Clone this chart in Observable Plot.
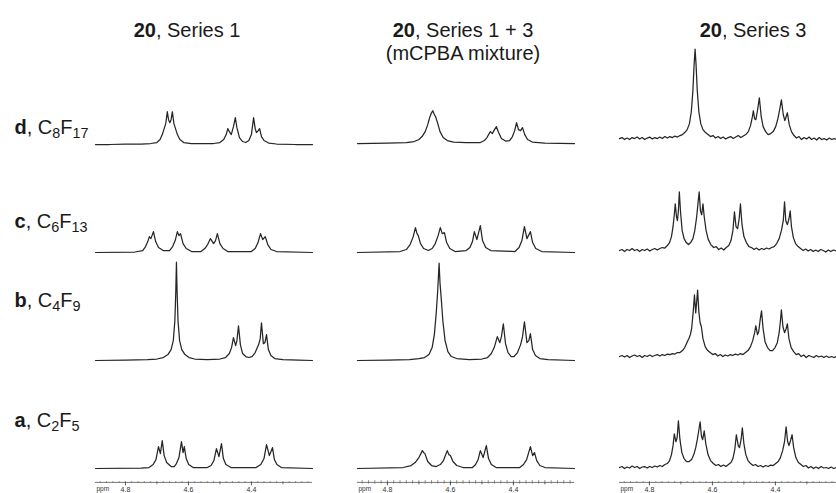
<!DOCTYPE html>
<html><head><meta charset="utf-8">
<script src="https://cdn.jsdelivr.net/npm/d3@7"></script>
<script src="https://cdn.jsdelivr.net/npm/@observablehq/plot@0.6"></script>
<style>html,body{margin:0;padding:0;background:#fff;overflow:hidden}</style>
</head><body><div id="chart"></div>
<script>
// ---------- data ----------
const compound = "20";
const colKeys = ["Series 1", "Series 1 + 3", "Series 3"];
const colNotes = ["", "(mCPBA mixture)", ""];
const rows = ["d", "c", "b", "a"];
const formulas = ["C8F17", "C6F13", "C4F9", "C2F5"];

const majorTicks = [4.8, 4.6, 4.4];
const majorTickLabels = ["4.8", "4.6", "4.4"];
const axisUnit = "ppm";
const midTicks = [4.7, 4.5, 4.3];
const fineTicks = [4.88,4.86,4.84,4.82,4.80,4.78,4.76,4.74,4.72,4.70,4.68,4.66,4.64,4.62,4.60,4.58,4.56,4.54,4.52,4.50,4.48,4.46,4.44,4.42,4.40,4.38,4.36,4.34,4.32,4.30,4.28,4.26,4.24,4.22];

// spectra: [ppm, intensity]
const S1_d = [[4.895,0],[4.85,0],[4.80,0.5],[4.75,0.5],[4.72,1],[4.700,2],[4.690,5],[4.683,10],[4.677,16],[4.672,21],[4.667,33],[4.663,25],[4.659,22],[4.655,25],[4.651,33],[4.646,21],[4.641,16],[4.635,10],[4.627,5],[4.615,2],[4.59,1],[4.52,1],[4.500,2],[4.488,5],[4.480,10],[4.475,16],[4.470,13],[4.464,10],[4.457,18],[4.451,27],[4.446,17],[4.438,7],[4.428,3],[4.418,2],[4.408,4],[4.400,10],[4.393,27],[4.388,16],[4.384,12],[4.378,14],[4.374,16],[4.368,8],[4.360,4],[4.345,1.5],[4.32,0.5],[4.26,0],[4.206,0]];
const S1_c = [[4.895,0],[4.77,0.5],[4.745,2],[4.736,6],[4.729,11],[4.724,16],[4.719,14],[4.711,21],[4.704,11],[4.695,5],[4.680,2],[4.660,2],[4.650,6],[4.642,12],[4.635,21],[4.630,17],[4.625,19],[4.617,9],[4.607,4],[4.590,1],[4.56,1],[4.548,4],[4.539,8],[4.530,14],[4.520,9],[4.514,12],[4.508,19],[4.500,9],[4.490,4],[4.475,1],[4.40,1],[4.388,4],[4.379,10],[4.371,19],[4.364,13],[4.356,16],[4.348,8],[4.338,3],[4.32,1],[4.206,0]];
const S1_b = [[4.895,0],[4.80,0.5],[4.73,1],[4.700,1.5],[4.680,3],[4.665,6],[4.655,11],[4.648,20],[4.643,40],[4.640,70],[4.638,99],[4.636,70],[4.633,40],[4.628,20],[4.621,11],[4.611,6],[4.598,3],[4.580,1.5],[4.540,1],[4.500,1.5],[4.482,3],[4.470,7],[4.463,13],[4.457,23],[4.450,15],[4.446,20],[4.441,35],[4.435,16],[4.428,7],[4.418,4],[4.408,3],[4.398,4],[4.388,8],[4.377,16],[4.372,22],[4.368,38],[4.362,17],[4.357,18],[4.352,26],[4.346,11],[4.338,5],[4.326,2],[4.30,1],[4.25,0.5],[4.206,0]];
const S1_a = [[4.895,0],[4.75,0.5],[4.725,1],[4.712,4],[4.703,9],[4.695,22],[4.689,15],[4.683,28],[4.677,13],[4.669,6],[4.655,2],[4.645,2],[4.638,5],[4.630,11],[4.622,27],[4.617,16],[4.613,22],[4.607,10],[4.599,4],[4.585,1],[4.54,1],[4.528,3],[4.519,8],[4.511,20],[4.503,12],[4.495,25],[4.489,10],[4.481,4],[4.465,1],[4.385,1],[4.370,4],[4.360,10],[4.352,24],[4.343,13],[4.333,21],[4.327,9],[4.319,4],[4.305,1],[4.206,0]];

const S13_d = [[4.895,0],[4.80,0.5],[4.74,1],[4.715,2],[4.700,4],[4.690,7],[4.680,12],[4.672,19],[4.665,27],[4.660,31],[4.656,33],[4.652,30],[4.647,27],[4.641,21],[4.633,12],[4.623,6],[4.610,3],[4.59,1.5],[4.55,1],[4.505,1],[4.492,3],[4.484,6],[4.477,10],[4.473,12],[4.467,10],[4.460,14],[4.454,17],[4.447,11],[4.438,5],[4.425,2.5],[4.412,3],[4.403,7],[4.396,13],[4.390,21],[4.384,14],[4.377,13],[4.371,16],[4.364,9],[4.355,4],[4.340,1.5],[4.30,0.5],[4.206,0]];
const S13_c = [[4.895,0],[4.76,1],[4.740,3],[4.728,8],[4.718,16],[4.711,25],[4.706,19],[4.702,17],[4.695,9],[4.685,4],[4.670,2],[4.658,4],[4.648,9],[4.639,17],[4.632,25],[4.626,19],[4.619,20],[4.612,10],[4.602,4],[4.585,1],[4.550,2],[4.538,5],[4.530,11],[4.524,21],[4.516,13],[4.505,27],[4.498,12],[4.488,5],[4.472,2],[4.395,1],[4.382,5],[4.373,12],[4.365,26],[4.357,14],[4.346,21],[4.339,10],[4.329,4],[4.31,1],[4.206,0]];
const S13_b = [[4.895,0],[4.80,0.5],[4.73,1],[4.700,2],[4.682,3],[4.668,6],[4.658,13],[4.651,26],[4.645,48],[4.640,72],[4.636,98],[4.633,78],[4.629,62],[4.624,40],[4.617,20],[4.608,9],[4.597,4],[4.580,2],[4.540,1],[4.500,1.5],[4.482,3],[4.470,7],[4.461,13],[4.451,24],[4.443,18],[4.438,24],[4.432,37],[4.425,17],[4.417,8],[4.407,4],[4.398,4],[4.387,8],[4.377,16],[4.371,24],[4.365,39],[4.357,18],[4.351,20],[4.346,27],[4.339,11],[4.330,5],[4.316,2],[4.29,1],[4.206,0]];
const S13_a = [[4.895,0],[4.75,1],[4.725,3],[4.712,6],[4.700,11],[4.689,18],[4.685,16],[4.681,15],[4.672,7],[4.660,3],[4.645,2],[4.632,4],[4.622,8],[4.616,13],[4.610,18],[4.605,14],[4.600,13],[4.592,7],[4.580,3],[4.560,1],[4.53,1],[4.520,4],[4.512,9],[4.505,18],[4.496,11],[4.486,23],[4.479,10],[4.470,4],[4.455,1],[4.380,1],[4.368,4],[4.358,9],[4.346,22],[4.339,13],[4.333,16],[4.326,8],[4.316,3],[4.30,1],[4.206,0]];

const S3_d = [[4.895,0],[4.887,1],[4.879,-1],[4.871,0.5],[4.863,-1],[4.855,1],[4.847,0],[4.839,1.5],[4.831,-0.5],[4.823,1],[4.815,-1],[4.807,0.5],[4.799,1.5],[4.791,-0.5],[4.783,1],[4.775,0],[4.767,1.5],[4.759,0],[4.751,2],[4.743,0.5],[4.735,2],[4.727,1],[4.719,2.5],[4.711,1.5],[4.703,3],[4.695,4],[4.688,6],[4.680,9],[4.673,15],[4.667,27],[4.662,48],[4.658,75],[4.655,90],[4.652,75],[4.648,48],[4.643,27],[4.637,15],[4.630,9],[4.622,6],[4.614,4],[4.606,2],[4.598,3],[4.590,0.5],[4.582,2],[4.574,0],[4.566,1.5],[4.558,-0.5],[4.550,1],[4.542,2],[4.534,0],[4.526,1.5],[4.518,3],[4.510,1],[4.502,2.5],[4.494,4],[4.486,7],[4.479,13],[4.473,22],[4.470,28],[4.466,20],[4.462,19],[4.457,28],[4.451,41],[4.445,22],[4.439,12],[4.431,7],[4.423,4],[4.415,5],[4.407,7],[4.399,12],[4.392,20],[4.386,30],[4.381,39],[4.375,24],[4.370,18],[4.366,22],[4.362,26],[4.356,14],[4.349,7],[4.341,3],[4.333,0.5],[4.325,2],[4.317,-1],[4.309,1],[4.301,-0.5],[4.293,1.5],[4.285,-1],[4.277,0.5],[4.269,-1.5],[4.261,1],[4.253,-1],[4.245,0],[4.237,-1.5],[4.229,0.5],[4.221,-1],[4.213,0],[4.206,-1]];
const S3_c = [[4.895,0],[4.887,1],[4.879,-1],[4.871,1],[4.863,0],[4.855,2],[4.847,0],[4.839,1],[4.831,-1],[4.823,1],[4.815,0],[4.807,1.5],[4.799,-0.5],[4.791,1],[4.783,2],[4.775,0.5],[4.767,2],[4.759,3],[4.751,2.5],[4.743,5],[4.736,8],[4.730,14],[4.725,24],[4.721,36],[4.718,47],[4.714,34],[4.711,30],[4.708,40],[4.705,59],[4.701,38],[4.696,20],[4.690,12],[4.683,8],[4.676,6],[4.669,8],[4.662,12],[4.656,20],[4.650,34],[4.645,50],[4.642,59],[4.638,40],[4.634,36],[4.630,47],[4.626,34],[4.620,20],[4.613,11],[4.605,6],[4.596,3],[4.588,4],[4.580,1],[4.572,2.5],[4.564,0.5],[4.556,3],[4.548,5],[4.541,10],[4.535,20],[4.530,39],[4.525,24],[4.520,22],[4.515,32],[4.511,47],[4.506,26],[4.500,14],[4.492,8],[4.484,4],[4.476,3],[4.468,1],[4.460,2.5],[4.452,0.5],[4.444,2],[4.436,1],[4.428,2.5],[4.420,1.5],[4.412,3],[4.404,4],[4.396,7],[4.388,12],[4.381,20],[4.375,30],[4.371,49],[4.367,30],[4.362,26],[4.357,32],[4.353,40],[4.349,24],[4.343,13],[4.336,7],[4.328,4],[4.320,2],[4.312,0],[4.304,1.5],[4.296,-0.5],[4.288,1],[4.280,-1],[4.272,0.5],[4.264,-1],[4.256,1],[4.248,0],[4.240,-1.5],[4.232,0.5],[4.224,-1],[4.216,0.5],[4.206,-0.5]];
const S3_b = [[4.895,0],[4.887,1],[4.879,-0.5],[4.871,1],[4.863,-1],[4.855,0.5],[4.847,1.5],[4.839,0],[4.831,1],[4.823,-1],[4.815,1],[4.807,0],[4.799,1.5],[4.791,0],[4.783,1],[4.775,2],[4.767,0.5],[4.759,2],[4.751,1],[4.743,2.5],[4.735,2],[4.727,3],[4.719,2.5],[4.711,4],[4.703,4],[4.695,6],[4.688,9],[4.681,14],[4.675,18],[4.670,22],[4.666,28],[4.661,45],[4.657,62],[4.653,44],[4.650,55],[4.647,67],[4.643,45],[4.639,34],[4.635,30],[4.630,18],[4.623,10],[4.615,6],[4.607,4],[4.599,2],[4.591,3],[4.583,0.5],[4.575,2],[4.567,0],[4.559,1.5],[4.551,0.5],[4.543,2],[4.535,1],[4.527,2.5],[4.519,1.5],[4.511,3],[4.503,2],[4.495,4],[4.487,6],[4.479,10],[4.472,16],[4.466,24],[4.462,31],[4.457,22],[4.453,25],[4.448,38],[4.444,46],[4.439,28],[4.433,15],[4.425,9],[4.417,6],[4.409,6],[4.401,9],[4.394,14],[4.388,24],[4.384,36],[4.381,47],[4.376,30],[4.371,24],[4.366,28],[4.362,33],[4.357,18],[4.350,9],[4.342,5],[4.334,2],[4.326,3],[4.318,0],[4.310,1.5],[4.302,-1],[4.294,1],[4.286,0],[4.278,-1],[4.270,1],[4.262,-0.5],[4.254,0.5],[4.246,-1],[4.238,0.5],[4.230,-1],[4.222,0],[4.214,-1],[4.206,0]];
const S3_a = [[4.895,0],[4.887,1],[4.879,-1],[4.871,0.5],[4.863,-0.5],[4.855,1.5],[4.847,0],[4.839,1],[4.831,-1],[4.823,0.5],[4.815,1],[4.807,-0.5],[4.799,1],[4.791,0],[4.783,1.5],[4.775,0.5],[4.767,2],[4.759,1],[4.751,3],[4.743,4],[4.736,7],[4.730,13],[4.725,22],[4.721,34],[4.716,26],[4.712,30],[4.708,47],[4.703,28],[4.697,15],[4.690,9],[4.682,6],[4.674,6],[4.666,8],[4.659,13],[4.653,20],[4.648,28],[4.644,36],[4.639,46],[4.635,32],[4.631,28],[4.626,37],[4.621,24],[4.614,13],[4.606,7],[4.597,4],[4.589,2],[4.581,3],[4.573,1],[4.565,2.5],[4.557,1],[4.549,3],[4.541,5],[4.535,9],[4.529,18],[4.524,33],[4.518,22],[4.514,20],[4.509,28],[4.505,40],[4.500,24],[4.494,13],[4.487,7],[4.479,4],[4.471,2],[4.463,3],[4.455,1],[4.447,2],[4.439,0.5],[4.431,2],[4.423,1],[4.415,2.5],[4.407,2],[4.399,4],[4.391,6],[4.384,10],[4.377,17],[4.371,26],[4.366,41],[4.361,26],[4.357,22],[4.352,27],[4.347,33],[4.342,20],[4.335,10],[4.327,5],[4.319,3],[4.311,1],[4.303,2],[4.295,-0.5],[4.287,1],[4.279,-1],[4.271,0.5],[4.263,-1],[4.255,1],[4.247,-0.5],[4.239,0],[4.231,-1],[4.223,0.5],[4.215,-1],[4.206,0]];

// vertical offset of each trace's baseline (rows d,c,b,a) per column
const baselineLift = [[0,0,0,0],[1,0,0,0],[6,2,4,1]];

// ---------- table building ----------
const spectra = [[S1_d,S1_c,S1_b,S1_a],[S13_d,S13_c,S13_b,S13_a],[S3_d,S3_c,S3_b,S3_a]];
const points = [];
spectra.forEach((colSpectra, ci) => colSpectra.forEach((arr, ri) => arr.forEach(([ppm, h]) =>
  points.push({col: colKeys[ci], row: rows[ri], ppm, h: h + baselineLift[ci][ri]}))));

const bottomRow = rows[rows.length - 1];
const axisFacets = colKeys.map(c => ({col: c, row: bottomRow}));
const majorRows = colKeys.flatMap(c => majorTicks.map((v, i) => ({col: c, row: bottomRow, v, label: majorTickLabels[i]})));
const midRows = colKeys.flatMap(c => midTicks.map(v => ({col: c, row: bottomRow, v})));
const fineRows = colKeys.flatMap((c, ci) => fineTicks.map(v => ({col: c, row: bottomRow, v, strong: ci === 1})));

const titles = colKeys.map((k, i) => `${compound}, ${k}` + (colNotes[i] ? "\n" + colNotes[i] : ""));
const titleDx = [-17, -3, 25];
const rowLabelLift = {d: 17, c: 31, b: 60, a: 48};
const rowLabels = rows.map((r, i) => ({col: colKeys[0], row: r, label: `${r}, ${formulas[i]}`, lift: rowLabelLift[r]}));

const AXIS_Y = -14;
const ink = "#262626";

const chart = Plot.plot({
  width: 836, height: 493,
  marginTop: 34, marginBottom: 24, marginLeft: 95, marginRight: 0,
  style: {fontFamily: "'Liberation Sans', Arial, Helvetica, sans-serif", background: "#fff", overflow: "visible"},
  x: {domain: [4.895, 4.206], axis: null},
  y: {domain: [0, 108.8], axis: null},
  fx: {domain: colKeys, paddingInner: 0.172, paddingOuter: 0, axis: null, label: null},
  fy: {domain: rows, padding: 0, axis: null, label: null},
  marks: [
    Plot.line(points, {x: "ppm", y: "h", fx: "col", fy: "row", stroke: ink, strokeWidth: 1.25, strokeLinejoin: "round"}),
    Plot.ruleY(axisFacets, {fx: "col", fy: "row", y: () => AXIS_Y, stroke: "#555", strokeWidth: 0.8}),
    Plot.ruleX(fineRows, {fx: "col", fy: "row", x: "v", y1: d => d.strong ? AXIS_Y + 1.8 : AXIS_Y + 0.8, y2: d => d.strong ? AXIS_Y - 1.8 : AXIS_Y - 0.8, stroke: "#666", strokeWidth: 0.7}),
    Plot.ruleX(midRows, {fx: "col", fy: "row", x: "v", y1: () => AXIS_Y, y2: () => AXIS_Y - 2.5, stroke: "#555", strokeWidth: 0.8}),
    Plot.ruleX(majorRows, {fx: "col", fy: "row", x: "v", y1: () => AXIS_Y, y2: () => AXIS_Y - 3.5, stroke: "#444", strokeWidth: 0.9}),
    Plot.text(majorRows, {fx: "col", fy: "row", x: "v", y: () => AXIS_Y - 4.2, text: "label", lineAnchor: "top", fontSize: 7, fill: "#333"}),
    Plot.text(axisFacets, {fx: "col", fy: "row", frameAnchor: "left", y: () => AXIS_Y - 4.2, text: () => axisUnit, textAnchor: "start", dx: 1, lineAnchor: "top", fontSize: 6.5, fill: "#333"}),
    ...colKeys.map((c, i) => Plot.text([{col: c, row: rows[0], t: titles[i]}], {fx: "col", fy: "row", frameAnchor: "top", text: "t", dx: titleDx[i], dy: -16, lineAnchor: "top", lineHeight: 1.15, fontSize: 20, fill: "#1a1a1a"})),
    Plot.text(rowLabels, {fx: "col", fy: "row", frameAnchor: "left", y: "lift", text: "label", textAnchor: "start", dx: -81, fontSize: 20, fill: "#1a1a1a"})
  ]
});

// rich text: bold compound / row letter, subscripts in formulas
d3.select(chart).selectAll("text").each(function () {
  const tsp = this.querySelectorAll("tspan");
  const leaves = tsp.length ? Array.from(tsp) : [this];
  for (const node of leaves) {
    const s = node.textContent;
    const n = d3.select(node);
    let m;
    if (s.startsWith(compound + ",")) {
      node.textContent = "";
      n.append("tspan").attr("font-weight", "bold").text(compound);
      n.append("tspan").text(s.slice(compound.length));
    } else if ((m = s.match(/^([a-d]), (.+)$/))) {
      node.textContent = "";
      n.append("tspan").attr("font-weight", "bold").text(m[1]);
      n.append("tspan").text(", ");
      let shifted = false;
      for (const [, el, num] of m[2].matchAll(/([A-Z][a-z]?)(\d*)/g)) {
        const e = n.append("tspan").text(el);
        if (shifted) { e.attr("dy", -4); shifted = false; }
        if (num) { n.append("tspan").attr("dy", 4).attr("font-size", "0.72em").text(num); shifted = true; }
      }
    }
  }
});

document.getElementById("chart").appendChild(chart);
</script></body></html>
